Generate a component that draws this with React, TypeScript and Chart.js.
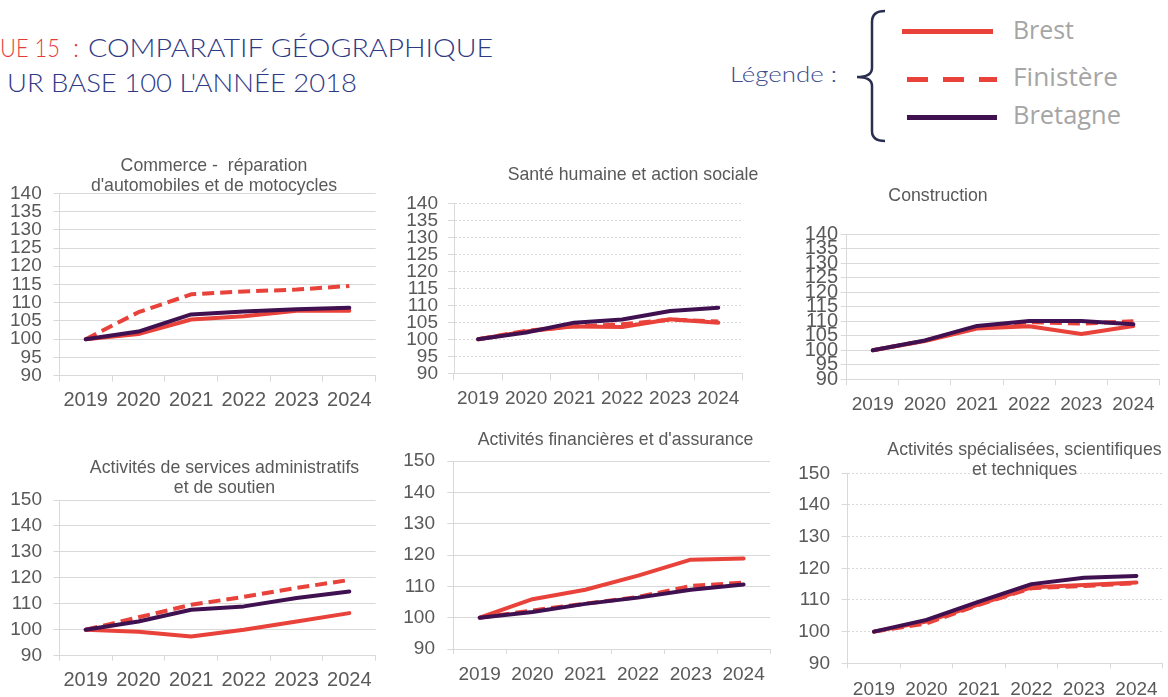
import React, { useEffect, useRef } from "react";
import { Chart, registerables } from "chart.js";

Chart.register(...registerables);

// ---------- DATA ----------
const years = ["2019", "2020", "2021", "2022", "2023", "2024"];
const seriesNames = ["Brest", "Finistère", "Bretagne"];

const commerceBrest = [100, 101.4, 105.4, 106.3, 107.8, 107.8];
const commerceFinistere = [100, 107.4, 112.3, 113.1, 113.6, 114.6];
const commerceBretagne = [100, 102.1, 106.8, 107.6, 108.2, 108.6];

const santeBrest = [100, 102.3, 103.8, 103.6, 105.9, 104.9];
const santeFinistere = [100, 102.5, 103.8, 104.4, 105.8, 105.2];
const santeBretagne = [100, 102.0, 104.9, 105.8, 108.3, 109.3];

const constructionBrest = [100, 103.2, 107.5, 108.3, 105.6, 108.4];
const constructionFinistere = [100, 103.3, 108.0, 109.7, 109.2, 110.0];
const constructionBretagne = [100, 103.4, 108.4, 110.1, 110.1, 109.0];

const adminBrest = [100, 99.2, 97.4, 100.0, 103.2, 106.4];
const adminFinistere = [100, 104.8, 109.6, 112.7, 116.1, 119.2];
const adminBretagne = [100, 103.2, 107.7, 109.0, 112.2, 114.7];

const financeBrest = [100, 105.9, 108.9, 113.4, 118.5, 118.9];
const financeFinistere = [100, 102.3, 104.5, 106.6, 110.1, 111.2];
const financeBretagne = [100, 101.8, 104.4, 106.4, 108.9, 110.6];

const scienceBrest = [100, 103.2, 108.6, 114.0, 114.7, 115.5];
const scienceFinistere = [100, 102.6, 108.5, 113.7, 114.4, 115.3];
const scienceBretagne = [100, 103.7, 109.5, 115.0, 117.0, 117.6];

const titleCommerce = ["Commerce -  réparation", "d'automobiles et de motocycles"];
const titleSante = ["Santé humaine et action sociale"];
const titleConstruction = ["Construction"];
const titleAdmin = ["Activités de services administratifs", "et de soutien"];
const titleFinance = ["Activités financières et d'assurance"];
const titleScience = ["Activités spécialisées, scientifiques", "et techniques"];

// ---------- STYLE ----------
const RED = "#E8423A";
const PURPLE = "#3F1150";
const TEXT = "#595959";
const GRID = "#D9D9D9";
const FONT = "'Liberation Sans', Arial, sans-serif";
const TITLE_SIZE = 17.7;

type Layout = {
  cl: number; ct: number; titleX: number; padLeft: number;
  areaL: number; areaR: number; areaT: number; areaB: number; titleY: number;
  tl: number; xPad: number; xFont: number; yPad: number; yFont: number;
};

type Panel = {
  title: string[]; brest: number[]; finistere: number[]; bretagne: number[];
  yMin: number; yMax: number; yStep: number; dotted: boolean; layout: Layout;
};

const panels: Panel[] = [
  {
    title: titleCommerce, brest: commerceBrest, finistere: commerceFinistere, bretagne: commerceBretagne,
    yMin: 90, yMax: 140, yStep: 5, dotted: false,
    layout: { cl: 0, ct: 140, titleX: 214, padLeft: 0, areaL: 59.3, areaR: 375.7, areaT: 193.3, areaB: 375.7, titleY: 166, tl: 6, xPad: 6.3, xFont: 20, yPad: 11.6, yFont: 19 },
  },
  {
    title: titleSante, brest: santeBrest, finistere: santeFinistere, bretagne: santeBretagne,
    yMin: 90, yMax: 140, yStep: 5, dotted: true,
    layout: { cl: 400, ct: 155, titleX: 633, padLeft: 400, areaL: 454, areaR: 742.3, areaT: 203.3, areaB: 373.3, titleY: 175, tl: 7, xPad: 6.8, xFont: 19, yPad: 10, yFont: 19 },
  },
  {
    title: titleConstruction, brest: constructionBrest, finistere: constructionFinistere, bretagne: constructionBretagne,
    yMin: 90, yMax: 140, yStep: 5, dotted: false,
    layout: { cl: 713, ct: 176, titleX: 938, padLeft: 713, areaL: 846.7, areaR: 1161, areaT: 234.3, areaB: 379.3, titleY: 196, tl: 6, xPad: 8.3, xFont: 19, yPad: 2.7, yFont: 20 },
  },
  {
    title: titleAdmin, brest: adminBrest, finistere: adminFinistere, bretagne: adminBretagne,
    yMin: 90, yMax: 150, yStep: 10, dotted: false,
    layout: { cl: 0, ct: 445, titleX: 224.5, padLeft: 0, areaL: 59.3, areaR: 375.7, areaT: 500, areaB: 655.7, titleY: 468, tl: 5, xPad: 7.3, xFont: 20, yPad: 11.3, yFont: 19 },
  },
  {
    title: titleFinance, brest: financeBrest, finistere: financeFinistere, bretagne: financeBretagne,
    yMin: 90, yMax: 150, yStep: 10, dotted: false,
    layout: { cl: 398, ct: 420, titleX: 615.5, padLeft: 398, areaL: 453.3, areaR: 770, areaT: 461, areaB: 649, titleY: 440, tl: 5, xPad: 9.6, xFont: 19, yPad: 12.3, yFont: 19 },
  },
  {
    title: titleScience, brest: scienceBrest, finistere: scienceFinistere, bretagne: scienceBretagne,
    yMin: 90, yMax: 150, yStep: 10, dotted: true,
    layout: { cl: 790, ct: 425, titleX: 1024.5, padLeft: 794, areaL: 847.7, areaR: 1162.7, areaT: 473.3, areaB: 663.3, titleY: 450, tl: 5, xPad: 10.3, xFont: 19, yPad: 11.7, yFont: 19 },
  },
];

function geometry(p: Panel) {
  const L = p.layout;
  const padRight = 2 * L.titleX - L.padLeft;
  const W = Math.round(padRight - L.cl);
  const realPadLeft = 2 * L.titleX - (L.cl + W);
  const pL = realPadLeft - L.cl;
  const wY = L.areaL - realPadLeft;
  const wR = L.cl + W - L.areaR;
  const n = p.title.length;
  const padTop = L.titleY - L.ct - 10;
  const padBot = L.areaT - L.ct - padTop - n * 20;
  const H = Math.ceil(L.areaB - L.ct + 40);
  const hX = H - (L.areaB - L.ct);
  return { W, H, pL, wY, wR, padTop, padBot, hX };
}

function PanelChart({ panel }: { panel: Panel }) {
  const ref = useRef<HTMLCanvasElement | null>(null);
  const g = geometry(panel);
  const L = panel.layout;

  useEffect(() => {
    if (!ref.current) return;
    const chart = new Chart(ref.current, {
      type: "line",
      data: {
        labels: years,
        datasets: [
          {
            label: seriesNames[0], data: panel.brest, borderColor: RED, backgroundColor: RED,
            borderWidth: 4, pointRadius: 0, tension: 0, order: 2,
            borderCapStyle: "round", borderJoinStyle: "round",
          },
          {
            label: seriesNames[1], data: panel.finistere, borderColor: RED, backgroundColor: RED,
            borderWidth: 4, pointRadius: 0, tension: 0, order: 1, borderDash: [12, 6],
            borderCapStyle: "butt", borderJoinStyle: "round",
          },
          {
            label: seriesNames[2], data: panel.bretagne, borderColor: PURPLE, backgroundColor: PURPLE,
            borderWidth: 4, pointRadius: 0, tension: 0, order: 0,
            borderCapStyle: "round", borderJoinStyle: "round",
          },
        ],
      },
      options: {
        animation: false,
        responsive: false,
        maintainAspectRatio: false,
        layout: { padding: { left: g.pL, right: 0, top: 0, bottom: 0 } },
        plugins: {
          legend: { display: false },
          tooltip: { enabled: false },
          title: {
            display: true,
            text: panel.title,
            color: TEXT,
            font: { family: FONT, size: TITLE_SIZE, weight: "normal", lineHeight: 20 / TITLE_SIZE },
            padding: { top: g.padTop, bottom: g.padBot },
          },
        },
        scales: {
          x: {
            type: "category",
            offset: true,
            grid: { display: true, offset: true, drawOnChartArea: false, drawTicks: true, tickLength: L.tl, color: GRID },
            border: { display: true, color: GRID },
            ticks: { color: TEXT, font: { family: FONT, size: L.xFont }, padding: L.xPad, maxRotation: 0, autoSkip: false },
            afterFit: (s: any) => { s.height = g.hX; },
          },
          y: {
            type: "linear",
            position: "left",
            min: panel.yMin,
            max: panel.yMax,
            ticks: { stepSize: panel.yStep, autoSkip: false, color: TEXT, font: { family: FONT, size: L.yFont }, padding: L.yPad },
            grid: { color: GRID, drawTicks: true, tickLength: 6 },
            border: { display: true, color: GRID, dash: panel.dotted ? [2, 2] : [] },
            afterFit: (s: any) => { s.width = g.wY; },
          },
          pad: {
            type: "linear",
            position: "right",
            display: true,
            ticks: { display: false },
            grid: { display: false, drawTicks: false },
            border: { display: false },
            afterFit: (s: any) => { s.width = g.wR; },
          },
        },
      } as any,
    });
    return () => chart.destroy();
  }, []);

  return (
    <canvas
      ref={ref}
      width={g.W}
      height={g.H}
      style={{ position: "absolute", left: L.cl, top: L.ct, width: g.W, height: g.H }}
    />
  );
}

function Header() {
  const navy = "#2F3A85";
  const titleRed = "#E63B3B";
  const legendGray = "#A5A5A5";
  return (
    <svg width={1168} height={697} style={{ position: "absolute", left: 0, top: 0 }}>
      <g fontFamily="Lato, 'Open Sans', sans-serif" fontSize={25} fontWeight={300}>
        <text x={0} y={57} fill={titleRed} textLength={60} lengthAdjust="spacingAndGlyphs">UE 15</text>
        <text x={73} y={57} fill={titleRed}>:</text>
        <text x={88} y={57} fill={navy} textLength={405} lengthAdjust="spacingAndGlyphs">COMPARATIF GÉOGRAPHIQUE</text>
        <text x={7} y={92} fill={navy} textLength={350} lengthAdjust="spacingAndGlyphs">UR BASE 100 L'ANNÉE 2018</text>
      </g>
      <text x={730} y={82} fill="#3B4B8E" fontFamily="Lato, 'Open Sans', sans-serif" fontSize={22} fontWeight={300} textLength={107} lengthAdjust="spacingAndGlyphs">Légende :</text>
      <path
        d="M885,11 Q872,11 872,22 L872,68 Q872,77 857,77 Q872,77 872,86 L872,131 Q872,141 885,141"
        fill="none" stroke="#2B2F4E" strokeWidth={2.5}
      />
      <line x1={902} y1={31.5} x2={993} y2={31.5} stroke={RED} strokeWidth={5} />
      <line x1={907} y1={79.5} x2={997} y2={79.5} stroke={RED} strokeWidth={5} strokeDasharray="21 15" />
      <line x1={907} y1={117.5} x2={997} y2={117.5} stroke={PURPLE} strokeWidth={5} />
      <g fontFamily="'Open Sans', sans-serif" fontSize={25} fill={legendGray}>
        <text x={1013} y={39} textLength={61} lengthAdjust="spacingAndGlyphs">{seriesNames[0]}</text>
        <text x={1013} y={86} textLength={105} lengthAdjust="spacingAndGlyphs">{seriesNames[1]}</text>
        <text x={1013} y={124} textLength={108} lengthAdjust="spacingAndGlyphs">{seriesNames[2]}</text>
      </g>
    </svg>
  );
}

export default function App() {
  return (
    <div
      style={{
        position: "absolute", left: 0, top: 0, width: 1168, height: 697,
        overflow: "hidden", background: "#ffffff",
      }}
    >
      <Header />
      {panels.map((p, i) => (
        <PanelChart key={i} panel={p} />
      ))}
    </div>
  );
}
